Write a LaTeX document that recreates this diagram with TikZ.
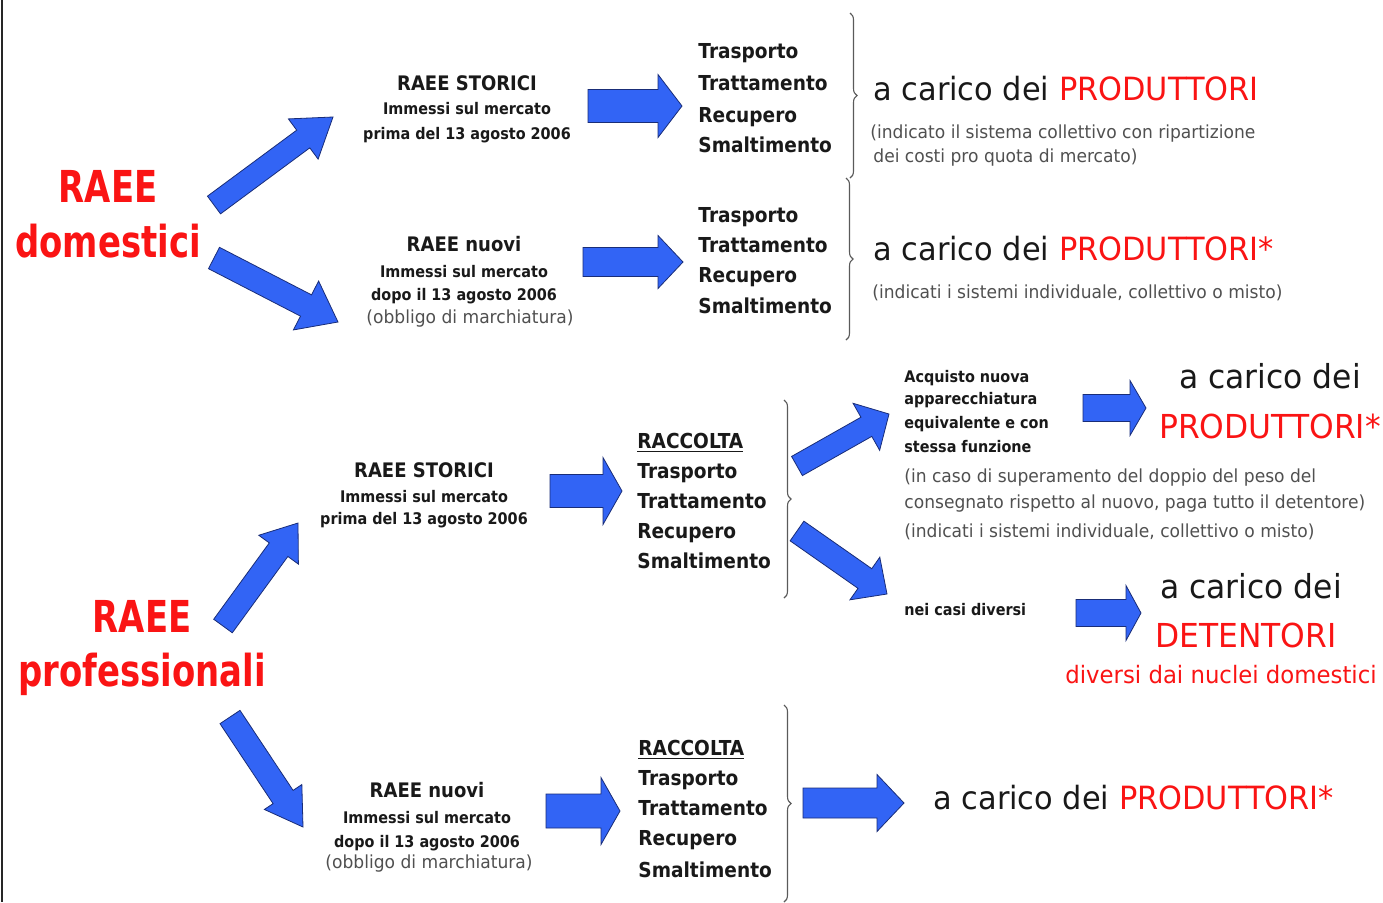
\documentclass[tikz,border=0pt]{standalone}
\usepackage{fontspec}
\setmainfont{DejaVu Sans}[FakeStretch=0.95]
\newfontfamily\fb{DejaVu Sans}[FakeStretch=0.9]
\newfontfamily\ft{DejaVu Sans}[FakeStretch=0.77]
\usetikzlibrary{calc,decorations.pathreplacing}
\definecolor{arrblue}{RGB}{50,100,245}
\definecolor{arredge}{RGB}{25,45,120}
\definecolor{redtxt}{RGB}{250,20,20}
\definecolor{txt}{RGB}{25,25,25}
\definecolor{greytxt}{RGB}{80,80,80}
\definecolor{bracec}{RGB}{90,90,90}
\tikzset{
  bigred/.style={inner sep=0pt, anchor=base, text=redtxt, font=\ft\bfseries\fontsize{22}{26}\selectfont},
  lhead/.style={inner sep=0pt, anchor=base, text=txt, font=\fb\bfseries\fontsize{10}{12}\selectfont},
  lsub/.style={inner sep=0pt, anchor=base, text=txt, font=\fb\bfseries\fontsize{8}{10}\selectfont},
  lpar/.style={inner sep=0pt, anchor=base, text=greytxt, font=\fontsize{9}{11}\selectfont},
  plist/.style={inner sep=0pt, anchor=base west, text=txt, font=\fb\bfseries\fontsize{10.3}{12}\selectfont},
  carico/.style={inner sep=0pt, anchor=base west, text=txt, font=\fontsize{16}{19}\selectfont},
  rcar/.style={inner sep=0pt, anchor=base, text=txt, font=\fontsize{16.5}{19}\selectfont},
  rred/.style={inner sep=0pt, anchor=base, text=redtxt, font=\fontsize{16.5}{19}\selectfont},
  rredsm/.style={inner sep=0pt, anchor=base, text=redtxt, font=\fontsize{12}{14}\selectfont},
  gsub/.style={inner sep=0pt, anchor=base west, text=greytxt, font=\fontsize{9}{11}\selectfont},
  msm/.style={inner sep=0pt, anchor=base west, text=txt, font=\fb\bfseries\fontsize{8}{10}\selectfont},
  blockarrow/.style={fill=arrblue, draw=arredge, line width=0.4pt, line join=miter},
  bracestyle/.style={draw=bracec, line width=0.55pt, decorate, decoration={brace, amplitude=3.5pt}}
}
\newcommand{\blockarr}[5]{%
  \pgfmathsetlengthmacro{\bsw}{#3*0.25pt}%
  \pgfmathsetlengthmacro{\bhw}{#4*0.25pt}%
  \pgfmathsetlengthmacro{\bhl}{#5*0.5pt}%
  \coordinate (#1-h) at ($(#2)!\bhl!(#1)$);
  \draw[blockarrow] ($(#1)!\bsw!90:(#2)$) -- ($(#1-h)!\bsw!90:(#2)$) -- ($(#1-h)!\bhw!90:(#2)$) -- (#2)
     -- ($(#1-h)!\bhw!-90:(#2)$) -- ($(#1-h)!\bsw!-90:(#2)$) -- ($(#1)!\bsw!-90:(#2)$) -- cycle;
}
\begin{document}
\begin{tikzpicture}[x=0.5pt,y=-0.5pt]
\useasboundingbox (0,0) rectangle (1383,902);
\fill[white] (0,0) rectangle (1383,902);
% left border
\draw[line width=1pt, black!85] (2,0) -- (2,902);

% ---- left titles
\node[bigred] (domA) at (108,202) {RAEE};
\node[bigred] (domB) at (108,257) {domestici};
\node[bigred] (proA) at (142,632) {RAEE};
\node[bigred] (proB) at (142,686) {professionali};

% ---- domestic: storici
\node[lhead] (ds1) at (467,90) {RAEE STORICI};
\node[lsub] (ds2) at (467,114) {Immessi sul mercato};
\node[lsub] (ds3) at (467,139) {prima del 13 agosto 2006};
% ---- domestic: nuovi
\node[lhead] (dn1) at (464,251) {RAEE nuovi};
\node[lsub] (dn2) at (464,277) {Immessi sul mercato};
\node[lsub] (dn3) at (464,300) {dopo il 13 agosto 2006};
\node[lpar] (dn4) at (470,323) {(obbligo di marchiatura)};

% ---- domestic lists
\node[plist] (dl1) at (698,58) {Trasporto};
\node[plist] (dl2) at (698,90) {Trattamento};
\node[plist] (dl3) at (698,122) {Recupero};
\node[plist] (dl4) at (698,152) {Smaltimento};
\node[plist] (dm1) at (698,222) {Trasporto};
\node[plist] (dm2) at (698,252) {Trattamento};
\node[plist] (dm3) at (698,282) {Recupero};
\node[plist] (dm4) at (698,313) {Smaltimento};

% ---- domestic results
\node[carico] (dr1) at (873,100) {a carico dei \textcolor{redtxt}{PRODUTTORI}};
\node[gsub] (dr2) at (870,138) {(indicato il sistema collettivo con ripartizione};
\node[gsub] (dr3) at (873,162) {dei costi pro quota di mercato)};
\node[carico] (dr4) at (873,260) {a carico dei \textcolor{redtxt}{PRODUTTORI*}};
\node[gsub] (dr5) at (872,298) {(indicati i sistemi individuale, collettivo o misto)};

% ---- professional: storici
\node[lhead] (ps1) at (424,477) {RAEE STORICI};
\node[lsub] (ps2) at (424,502) {Immessi sul mercato};
\node[lsub] (ps3) at (424,524) {prima del 13 agosto 2006};
\node[plist] (pl0) at (637,448) {\underline{RACCOLTA}};
\node[plist] (pl1) at (637,478) {Trasporto};
\node[plist] (pl2) at (637,508) {Trattamento};
\node[plist] (pl3) at (637,538) {Recupero};
\node[plist] (pl4) at (637,568) {Smaltimento};

\node[msm] (pa1) at (904,382) {Acquisto nuova};
\node[msm] (pa2) at (904,404) {apparecchiatura};
\node[msm] (pa3) at (904,428) {equivalente e con};
\node[msm] (pa4) at (904,452) {stessa funzione};
\node[gsub] (pa5) at (904,482) {(in caso di superamento del doppio del peso del};
\node[gsub] (pa6) at (904,508) {consegnato rispetto al nuovo, paga tutto il detentore)};
\node[gsub] (pa7) at (904,537) {(indicati i sistemi individuale, collettivo o misto)};
\node[rcar] (pr1) at (1270,388) {a carico dei};
\node[rred] (pr2) at (1270,438) {PRODUTTORI*};

\node[msm] (pd1) at (904,615) {nei casi diversi};
\node[rcar] (pr3) at (1251,598) {a carico dei};
\node[rred] (pr4) at (1246,647) {DETENTORI};
\node[rredsm] (pr5) at (1221,683) {diversi dai nuclei domestici};

% ---- professional: nuovi
\node[lhead] (pn1) at (427,797) {RAEE nuovi};
\node[lsub] (pn2) at (427,823) {Immessi sul mercato};
\node[lsub] (pn3) at (427,847) {dopo il 13 agosto 2006};
\node[lpar] (pn4) at (429,868) {(obbligo di marchiatura)};
\node[plist] (pm0) at (638,755) {\underline{RACCOLTA}};
\node[plist] (pm1) at (638,785) {Trasporto};
\node[plist] (pm2) at (638,815) {Trattamento};
\node[plist] (pm3) at (638,845) {Recupero};
\node[plist] (pm4) at (638,877) {Smaltimento};
\node[carico] (pm5) at (933,809) {a carico dei \textcolor{redtxt}{PRODUTTORI*}};

% ---- braces
\draw[bracestyle] (850,13) -- (850,178);
\draw[bracestyle] (846,178) -- (846,340);
\draw[bracestyle] (784,400) -- (784,598);
\draw[bracestyle] (784,705) -- (784,902);

% ---- block arrows (tail / tip coordinates)
\coordinate (a1s) at (214,205); \coordinate (a1e) at (333,117);
\coordinate (a2s) at (214,258); \coordinate (a2e) at (338,322);
\coordinate (a3s) at (588,106); \coordinate (a3e) at (682,106);
\coordinate (a4s) at (583,262); \coordinate (a4e) at (683,262);
\coordinate (a5s) at (223,626); \coordinate (a5e) at (298,523);
\coordinate (a6s) at (230,717); \coordinate (a6e) at (303,827);
\coordinate (a7s) at (550,491); \coordinate (a7e) at (622,491);
\coordinate (a8s) at (546,811); \coordinate (a8e) at (620,811);
\coordinate (a9s) at (803,803); \coordinate (a9e) at (904,803);
\coordinate (a10s) at (797,466); \coordinate (a10e) at (889,414);
\coordinate (a11s) at (797,531); \coordinate (a11e) at (887,594);
\coordinate (a12s) at (1083,408); \coordinate (a12e) at (1146,408);
\coordinate (a13s) at (1076,613); \coordinate (a13e) at (1141,613);

\blockarr{a1s}{a1e}{22}{50}{37}
\blockarr{a2s}{a2e}{24}{55}{36}
\blockarr{a3s}{a3e}{33}{63}{24}
\blockarr{a4s}{a4e}{29}{53}{25}
\blockarr{a5s}{a5e}{23}{49}{33}
\blockarr{a6s}{a6e}{24}{45}{36}
\blockarr{a7s}{a7e}{33}{67}{19}
\blockarr{a8s}{a8e}{34}{67}{19}
\blockarr{a9s}{a9e}{30}{57}{27}
\blockarr{a10s}{a10e}{22}{54}{26}
\blockarr{a11s}{a11e}{24}{52}{27}
\blockarr{a12s}{a12e}{27}{55}{16}
\blockarr{a13s}{a13e}{27}{55}{15}
\end{tikzpicture}
\end{document}
